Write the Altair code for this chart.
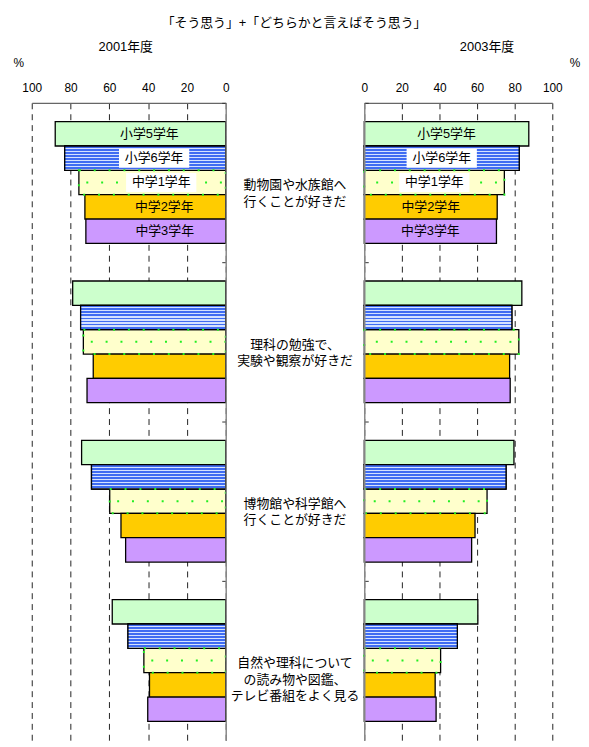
import altair as alt
import pandas as pd

# ---------------- data ----------------
group_keys = ["zoo", "lab", "museum", "reading"]
group_labels = [
    "動物園や水族館へ\n行くことが好きだ",
    "理科の勉強で、\n実験や観察が好きだ",
    "博物館や科学館へ\n行くことが好きだ",
    "自然や理科について\nの読み物や図鑑、\nテレビ番組をよく見る",
]
grades = ["小学5学年", "小学6学年", "中学1学年", "中学2学年", "中学3学年"]
grade_colors = ["#CCFFCC", "#4A78F5", "#FFFFCC", "#FFCC00", "#CC99FF"]

v2001_zoo = [87.9, 83.0, 75.7, 72.6, 72.1]
v2001_lab = [78.9, 74.8, 73.4, 68.3, 71.5]
v2001_museum = [74.3, 69.2, 59.8, 54.0, 51.6]
v2001_reading = [58.5, 50.4, 42.2, 39.3, 40.2]

v2003_zoo = [87.5, 82.4, 74.5, 70.7, 70.3]
v2003_lab = [83.8, 78.5, 82.2, 77.3, 77.6]
v2003_museum = [79.6, 75.4, 65.3, 58.9, 57.1]
v2003_reading = [60.4, 49.5, 40.6, 37.7, 38.2]

tick_values = [0, 20, 40, 60, 80, 100]
main_title = "「そう思う」+「どちらかと言えばそう思う」"

JP = "Liberation Sans, Noto Sans CJK JP"
LAT = "Liberation Sans"


def make_df(series):
    rows = []
    for g, vals in zip(group_keys, series):
        for gr, v in zip(grades, vals):
            rows.append({"group": g, "grade": gr, "value": v, "mid": v / 2})
    return pd.DataFrame(rows)


df2001 = make_df([v2001_zoo, v2001_lab, v2001_museum, v2001_reading])
df2003 = make_df([v2003_zoo, v2003_lab, v2003_museum, v2003_reading])

# stripe gradient for 小学6学年
stops = []
n = 8
for i in range(n):
    a = i / n
    b = (i + 0.62) / n
    c = (i + 1) / n
    stops += [
        alt.GradientStop(offset=a, color="#3F6CF2"),
        alt.GradientStop(offset=b, color="#3F6CF2"),
        alt.GradientStop(offset=b, color="#D4E2FF"),
        alt.GradientStop(offset=c, color="#D4E2FF"),
    ]
stripe = alt.LinearGradient(gradient="linear", stops=stops, x1=0, x2=0, y1=0, y2=1)

H = 644
P_IN = 0.236
P_OUT = 0.118
STEP = H / (4 - P_IN + 2 * P_OUT)
BOX = "M-1,-0.27H1V0.27H-1Z"


def panel(df, reverse, width, year, year_x, pct_x, label_dx, yaxis_orient):
    base = alt.Chart(df)
    xscale = alt.Scale(domain=[0, 100], reverse=reverse, nice=False, zero=True)
    xaxis = alt.Axis(
        orient="top", values=tick_values, tickCount=6, title=None, grid=True,
        gridDash=[6, 5], gridColor="#222", gridWidth=1, gridOpacity=1,
        ticks=False, tickSize=0, labelPadding=8, labelFlush=False,
        labelOverlap=False, labelFont=LAT, labelFontSize=12,
        labelColor="#000", domainColor="#666", domainWidth=1.3,
    )
    x = alt.X("value:Q", scale=xscale, axis=xaxis)
    xm = alt.X("mid:Q", scale=xscale, axis=xaxis)
    yscale = alt.Scale(paddingInner=P_IN, paddingOuter=P_OUT)
    y = alt.Y(
        "group:N", sort=group_keys, scale=yscale,
        axis=alt.Axis(orient=yaxis_orient, offset=-width, labels=False,
                      ticks=True, tickSize=4, tickColor="#333", tickWidth=1,
                      bandPosition=0, tickOffset=-P_IN * STEP / 2,
                      title=None, grid=False, domainColor="#888",
                      domainWidth=1.5, zindex=1),
    )
    yo = alt.YOffset("grade:N", sort=grades)

    bars = base.mark_bar(stroke="#000", strokeWidth=1.3).encode(
        x=x, y=y, yOffset=yo,
        fill=alt.Fill("grade:N", scale=alt.Scale(domain=grades, range=grade_colors), legend=None),
    )
    stripes = base.transform_filter(alt.datum.grade == "小学6学年").mark_bar(
        fill=stripe, stroke="#000", strokeWidth=1.3
    ).encode(x=x, y=y, yOffset=yo)
    dots_edge = base.transform_filter(alt.datum.grade == "中学1学年").mark_bar(
        fillOpacity=0, stroke="#22EE22", strokeWidth=2, strokeDash=[2, 13]
    ).encode(x=x, y=y, yOffset=yo)
    dots_mid = base.transform_filter(alt.datum.grade == "中学1学年").mark_rule(
        stroke="#22EE22", strokeWidth=2, strokeDash=[2, 13], strokeDashOffset=-7.5
    ).encode(x=x, x2=alt.datum(0), y=y, yOffset=yo)

    first = base.transform_filter(alt.datum.group == "zoo")
    boxes = first.transform_filter(
        (alt.datum.grade == "小学6学年") | (alt.datum.grade == "中学1学年")
    ).mark_point(shape=BOX, size=5041, filled=True, fill="#FFFFFF", opacity=1,
                 strokeWidth=0, xOffset=label_dx).encode(
        x=xm, y=y, yOffset=yo
    )
    texts = first.mark_text(font=JP, fontSize=13, color="#000", dx=label_dx,
                            align="center", baseline="middle").encode(
        x=xm, y=y, yOffset=yo, text="grade:N"
    )

    year_t = alt.Chart(pd.DataFrame({"t": [year]})).mark_text(
        font=JP, fontSize=13, color="#000", align="center", baseline="middle"
    ).encode(text="t:N", x=alt.value(year_x), y=alt.value(-56))
    pct_t = alt.Chart(pd.DataFrame({"t": ["%"]})).mark_text(
        font=LAT, fontSize=12, color="#000", align="center", baseline="middle"
    ).encode(text="t:N", x=alt.value(pct_x), y=alt.value(-40))

    return alt.layer(bars, stripes, dots_edge, dots_mid, boxes, texts, year_t, pct_t).properties(
        width=width, height=H
    )


left = panel(df2001, True, 196, "2001年度", 95, -13, 9, "left")
right = panel(df2003, False, 190, "2003年度", 124, 213, 0, "right")

lab_df = pd.DataFrame({"group": group_keys, "label": group_labels})
mid_labels = alt.Chart(lab_df).mark_text(
    font=JP, fontSize=13, color="#000", align="center", baseline="middle",
    lineBreak="\n", lineHeight=16.5, dy=3
).encode(
    y=alt.Y("group:N", sort=group_keys,
            scale=alt.Scale(paddingInner=P_IN, paddingOuter=P_OUT), axis=None),
    x=alt.value(70),
    text="label:N",
)
title_t = alt.Chart(pd.DataFrame({"t": [main_title]})).mark_text(
    font=JP, fontSize=13, color="#000", align="center", baseline="middle"
).encode(text="t:N", x=alt.value(69), y=alt.value(-81))
middle = alt.layer(mid_labels, title_t).properties(width=140, height=H)

chart = alt.hconcat(left, middle, right, spacing=0, bounds="flush").configure_view(
    stroke=None
).properties(padding={"left": 5, "top": 5, "right": 0, "bottom": 0})

chart.save("out.html", embed_options={"renderer": "svg", "actions": False})
